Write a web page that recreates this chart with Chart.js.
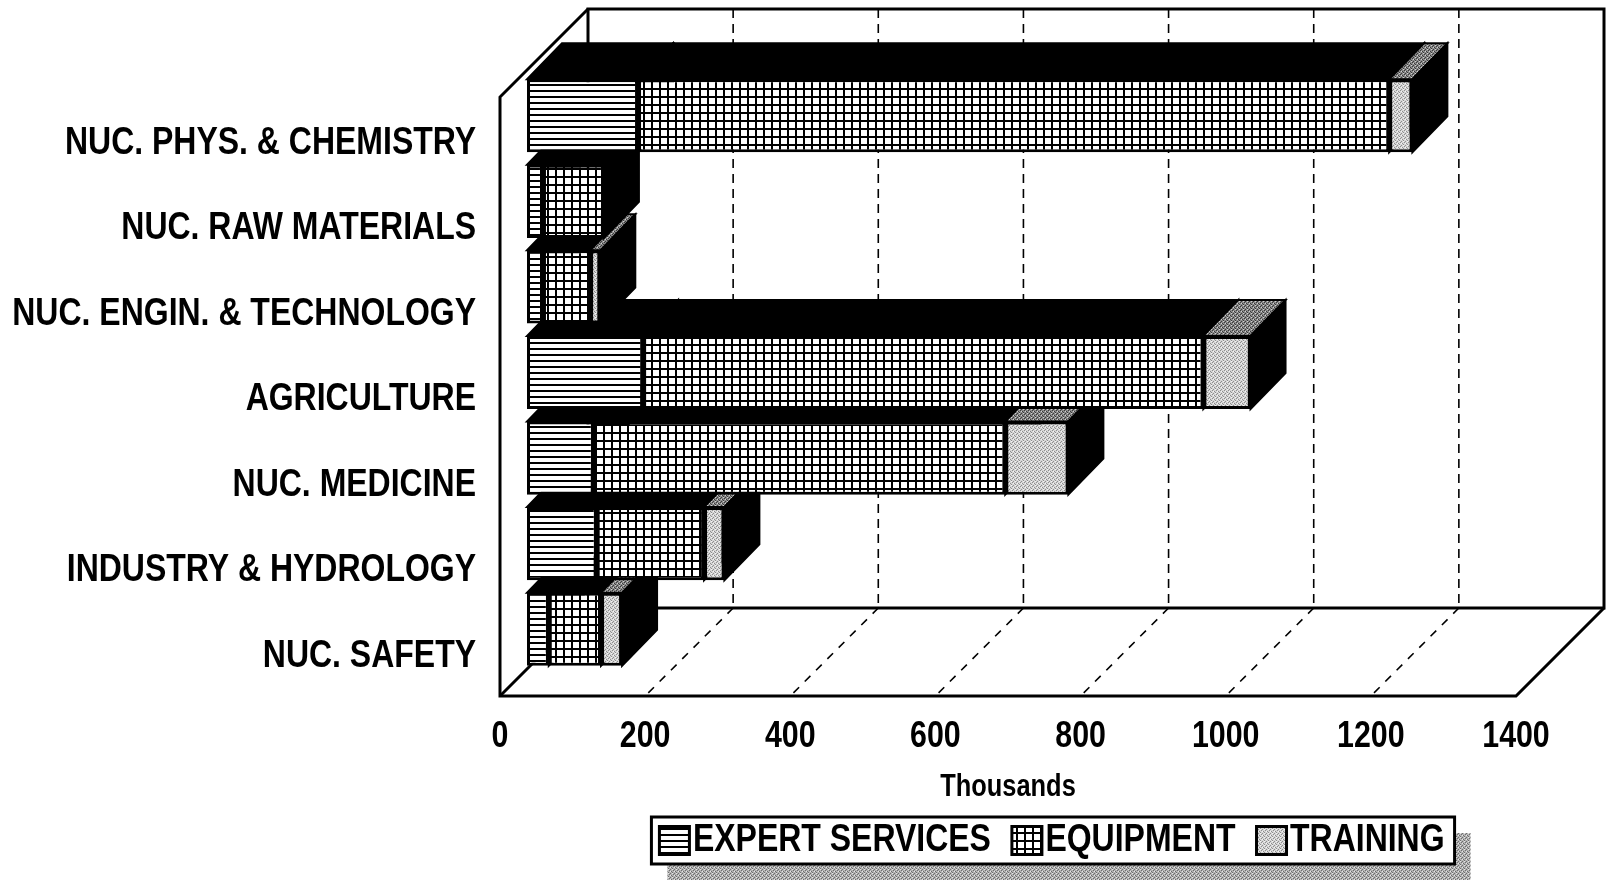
<!DOCTYPE html>
<html>
<head>
<meta charset="utf-8">
<script src="https://cdn.jsdelivr.net/npm/chart.js@4.4.1/dist/chart.umd.min.js"></script>
<style>
html,body{margin:0;padding:0;background:#fff;}
#wrap{width:1606px;height:880px;position:relative;}
canvas{display:block;}
</style>
</head>
<body>
<div id="wrap"><canvas id="c" width="1606" height="880"></canvas></div>
<script>
// ---- data (thousands) ----
const categories = [
  'NUC. PHYS. & CHEMISTRY',
  'NUC. RAW MATERIALS',
  'NUC. ENGIN. & TECHNOLOGY',
  'AGRICULTURE',
  'NUC. MEDICINE',
  'INDUSTRY & HYDROLOGY',
  'NUC. SAFETY'
];
const expertServices = [153, 22, 22, 160, 92, 96, 30];
const equipment      = [1035, 84, 65, 772, 567, 148, 72];
const training       = [32, 0, 14, 65, 87, 28, 29];
const seriesNames = ['EXPERT SERVICES', 'EQUIPMENT', 'TRAINING'];
const xAxisMin = 0, xAxisMax = 1400, xAxisStep = 200;
const xAxisTitle = 'Thousands';

const canvas = document.getElementById('c');
const ctx2d = canvas.getContext('2d');

// Condensed (narrow) rendering of all chart text: horizontal squeeze
const NARROW = 0.82;
(function () {
  const ofill = ctx2d.fillText.bind(ctx2d);
  const omeasure = ctx2d.measureText.bind(ctx2d);
  ctx2d.fillText = function (t, x, y, mw) {
    ctx2d.save();
    ctx2d.translate(x, y);
    ctx2d.scale(NARROW, 1);
    if (mw !== undefined && mw !== null) ofill(t, 0, 0, mw / NARROW); else ofill(t, 0, 0);
    ctx2d.restore();
  };
  ctx2d.measureText = function (t) {
    const m = omeasure(t);
    return {
      width: m.width * NARROW,
      actualBoundingBoxLeft: m.actualBoundingBoxLeft * NARROW,
      actualBoundingBoxRight: m.actualBoundingBoxRight * NARROW,
      actualBoundingBoxAscent: m.actualBoundingBoxAscent,
      actualBoundingBoxDescent: m.actualBoundingBoxDescent,
      fontBoundingBoxAscent: m.fontBoundingBoxAscent,
      fontBoundingBoxDescent: m.fontBoundingBoxDescent
    };
  };
})();

// ---- patterns ----
function makePattern(w, h, painter) {
  const c = document.createElement('canvas');
  c.width = w; c.height = h;
  const g = c.getContext('2d');
  painter(g, w, h);
  return ctx2d.createPattern(c, 'repeat');
}
const patExpert = makePattern(8, 6, (g, w, h) => {
  g.fillStyle = '#fff'; g.fillRect(0, 0, w, h);
  g.fillStyle = '#000'; g.fillRect(0, 0, w, 2);
});
const patEquip = makePattern(8, 8, (g, w, h) => {
  g.fillStyle = '#fff'; g.fillRect(0, 0, w, h);
  g.fillStyle = '#000'; g.fillRect(0, 0, w, 2); g.fillRect(0, 0, 2, h);
});
function stipple(base, dark, light) {
  return makePattern(4, 4, (g, w, h) => {
    g.fillStyle = base; g.fillRect(0, 0, w, h);
    g.fillStyle = dark;
    [[0,0],[2,1],[1,2],[3,3]].forEach(p => g.fillRect(p[0], p[1], 1, 1));
    g.fillStyle = light;
    [[2,3],[0,1]].forEach(p => g.fillRect(p[0], p[1], 1, 1));
  });
}
const patTrain = stipple('#d6d6d6', '#8e8e8e', '#f4f4f4');
const patTrainTop = stipple('#8a8a8a', '#3a3a3a', '#cfcfcf');
const patShadow = stipple('#b4b4b4', '#6e6e6e', '#e6e6e6');
const seriesFills = [patExpert, patEquip, patTrain];

const FONT = "'Liberation Sans',Arial,sans-serif";

// ---- 3D rendering plugin ----
const BACK = {x: 88, y: -88};      // depth of the whole box
const BARSHIFT = {x: 27, y: -24};  // bar plane inside the box
const BARDEPTH = {x: 35, y: -36};  // thickness of each bar
const LEGEND_CENTER = 1052;
const LEGEND_ICON = {w: 30, h: 28, slot: 14};

function legendGeometry(chart) {
  const lg = chart.legend;
  const p = lg.options.labels.padding;
  const fs = lg.options.labels.font.size;
  const lw = lg.lineWidths[0];
  const x0 = (lg.left + p + lg.right - lw) / 2;
  const x1 = x0 + lw - p;
  const yTop = lg.top + p;
  return {lg, p, fs, x0, x1, yTop, yc: yTop + fs / 2};
}

const chart3d = {
  id: 'chart3d',
  afterLayout(chart) {
    const lg = chart.legend;
    if (lg) {
      const d = LEGEND_CENTER - (lg.left + lg.right) / 2;
      lg.left += d; lg.right += d;
    }
  },
  beforeDraw(chart) {
    if (!chart.legend || !chart.legend.lineWidths) return;
    const {x0, x1, yc} = legendGeometry(chart);
    const ctx = chart.ctx;
    const L = x0 - 8, R = x1 + 10, T = yc - 23.5, B = yc + 23.5;
    ctx.save();
    ctx.fillStyle = patShadow;
    ctx.fillRect(L + 16, T + 16, R - L, B - T + 20);
    ctx.fillStyle = '#fff';
    ctx.fillRect(L, T, R - L, B - T);
    ctx.strokeStyle = '#000'; ctx.lineWidth = 3;
    ctx.strokeRect(L, T, R - L, B - T);
    ctx.restore();
  },
  afterDraw(chart) {
    if (!chart.legend || !chart.legend.lineWidths) return;
    const {lg, p, fs, x0, yTop} = legendGeometry(chart);
    const ctx = chart.ctx;
    ctx.save();
    let x = x0;
    lg.legendItems.forEach((item, i) => {
      const hb = lg.legendHitBoxes[i];
      const by = yTop + Math.max((fs - LEGEND_ICON.h) / 2, 0);
      const dsI = chart.data.datasets[item.datasetIndex];
      ctx.fillStyle = dsI.backgroundColor;
      ctx.fillRect(x, by, LEGEND_ICON.w, LEGEND_ICON.h);
      ctx.strokeStyle = '#000'; ctx.lineWidth = 3;
      ctx.strokeRect(x, by, LEGEND_ICON.w, LEGEND_ICON.h);
      x += hb.width + p;
    });
    ctx.restore();
  },
  beforeDatasetsDraw(chart) {
    const ctx = chart.ctx, a = chart.chartArea, xs = chart.scales.x;
    ctx.save();
    // dashed gridlines: back wall and floor
    ctx.strokeStyle = '#000';
    ctx.lineWidth = 1.6;
    xs.ticks.forEach(t => {
      if (t.value <= xs.min || t.value >= xs.max) return;
      const px = xs.getPixelForValue(t.value);
      ctx.setLineDash([9, 6]);
      ctx.beginPath(); ctx.moveTo(px + BACK.x, a.top + BACK.y); ctx.lineTo(px + BACK.x, a.bottom + BACK.y); ctx.stroke();
      ctx.setLineDash([8, 8]);
      ctx.beginPath(); ctx.moveTo(px + BACK.x, a.bottom + BACK.y); ctx.lineTo(px, a.bottom); ctx.stroke();
    });
    ctx.setLineDash([]);
    ctx.lineWidth = 3;
    ctx.lineJoin = 'miter';
    // back wall
    ctx.strokeRect(a.left + BACK.x, a.top + BACK.y, a.right - a.left, a.bottom - a.top);
    // left wall and floor outline
    ctx.beginPath();
    ctx.moveTo(a.left + BACK.x, a.top + BACK.y);
    ctx.lineTo(a.left, a.top);
    ctx.lineTo(a.left, a.bottom);
    ctx.lineTo(a.right, a.bottom);
    ctx.lineTo(a.right + BACK.x, a.bottom + BACK.y);
    ctx.stroke();
    ctx.beginPath();
    ctx.moveTo(a.left, a.bottom);
    ctx.lineTo(a.left + BACK.x, a.bottom + BACK.y);
    ctx.stroke();

    // bars: bottom category first so upper bars hide the tops of lower ones
    ctx.translate(BARSHIFT.x, BARSHIFT.y);
    const metas = chart.getSortedVisibleDatasetMetas();
    const n = chart.data.labels.length;
    for (let j = n - 1; j >= 0; j--) {
      metas.forEach((meta, k) => {
        const el = meta.data[j];
        if (!el) return;
        const {x, y, base, height} = el.getProps(['x', 'y', 'base', 'height'], true);
        const L = Math.min(x, base), R = Math.max(x, base);
        if (R - L < 0.5) return;
        const T = y - height / 2, B = y + height / 2;
        ctx.lineWidth = 2; ctx.strokeStyle = '#000'; ctx.lineJoin = 'miter';
        // top face
        ctx.beginPath();
        ctx.moveTo(L, T); ctx.lineTo(R, T);
        ctx.lineTo(R + BARDEPTH.x, T + BARDEPTH.y); ctx.lineTo(L + BARDEPTH.x, T + BARDEPTH.y);
        ctx.closePath();
        ctx.fillStyle = (k === 2) ? patTrainTop : '#000';
        ctx.fill(); ctx.stroke();
        // right face
        ctx.beginPath();
        ctx.moveTo(R, T); ctx.lineTo(R, B);
        ctx.lineTo(R + BARDEPTH.x, B + BARDEPTH.y); ctx.lineTo(R + BARDEPTH.x, T + BARDEPTH.y);
        ctx.closePath();
        ctx.fillStyle = '#000';
        ctx.fill(); ctx.stroke();
        // front face drawn by the library element
        el.draw(ctx);
      });
    }
    ctx.restore();
    return false;
  }
};

const ds = (label, data, bg) => ({
  label, data, backgroundColor: bg, borderColor: '#000', borderWidth: 3, borderSkipped: false
});

new Chart(ctx2d, {
  type: 'bar',
  data: {
    labels: categories,
    datasets: [
      ds(seriesNames[0], expertServices, seriesFills[0]),
      ds(seriesNames[1], equipment, seriesFills[1]),
      ds(seriesNames[2], training, seriesFills[2])
    ]
  },
  options: {
    indexAxis: 'y',
    responsive: false,
    animation: false,
    devicePixelRatio: 1,
    events: [],
    layout: {padding: {top: 97, right: 90, bottom: 10, left: 0}},
    datasets: {bar: {categoryPercentage: 1, barPercentage: 0.855}},
    scales: {
      x: {
        stacked: true, min: xAxisMin, max: xAxisMax,
        ticks: {stepSize: xAxisStep, padding: 19, color: '#000', maxRotation: 0,
                callback: v => String(v),
                font: {family: FONT, size: 37, weight: 'bold'}},
        grid: {display: false, drawTicks: false},
        border: {display: false},
        title: {display: true, text: xAxisTitle, color: '#000',
                font: {family: FONT, size: 31, weight: 'bold', lineHeight: 1}, padding: {top: 0, bottom: -3}},
        afterFit: s => { s.height = 104; }
      },
      y: {
        stacked: true,
        ticks: {padding: 24, color: '#000', autoSkip: false, labelOffset: 3,
                font: {family: FONT, size: 39, weight: 'bold'}},
        grid: {display: false, drawTicks: false},
        border: {display: false},
        afterFit: s => { s.width = 500; }
      }
    },
    plugins: {
      legend: {
        position: 'bottom', fullSize: false,
        labels: {
          boxWidth: LEGEND_ICON.slot, boxHeight: 28, padding: 21, color: '#000',
          font: {family: FONT, size: 39, weight: 'bold'},
          generateLabels: (chart) => Chart.defaults.plugins.legend.labels.generateLabels(chart)
            .map(it => Object.assign(it, {fillStyle: 'rgba(0,0,0,0)', strokeStyle: 'rgba(0,0,0,0)', lineWidth: 0}))
        }
      },
      tooltip: {enabled: false}
    }
  },
  plugins: [chart3d]
});
</script>
</body>
</html>
